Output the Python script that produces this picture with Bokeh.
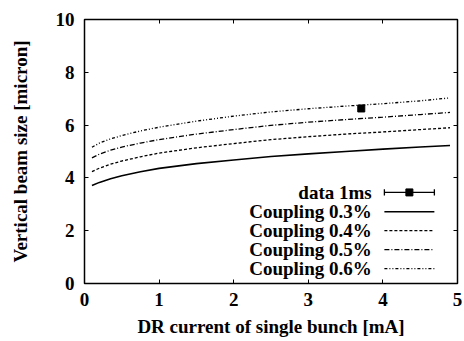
from bokeh.plotting import figure
from bokeh.models import LinearAxis, Range1d, FixedTicker
from bokeh.core.properties import value
from bokeh.embed import file_html
from bokeh.resources import INLINE

# ---- data ----
current = [0.1, 0.2, 0.35, 0.5, 0.75, 1.0, 1.5, 2.0, 2.5, 3.0, 3.5, 4.0, 4.5, 4.9]
coupling_03 = [3.71, 3.83, 3.97, 4.08, 4.23, 4.36, 4.54, 4.68, 4.81, 4.91, 5.00, 5.09, 5.17, 5.23]
coupling_04 = [4.24, 4.37, 4.52, 4.64, 4.80, 4.94, 5.14, 5.30, 5.45, 5.56, 5.66, 5.74, 5.83, 5.90]
coupling_05 = [4.76, 4.90, 5.05, 5.17, 5.32, 5.45, 5.66, 5.83, 5.99, 6.11, 6.21, 6.30, 6.40, 6.48]
coupling_06 = [5.16, 5.32, 5.48, 5.60, 5.78, 5.92, 6.15, 6.34, 6.50, 6.62, 6.72, 6.81, 6.92, 7.03]
data_x = [3.71]
data_y = [6.63]

x_ticks = [0, 1, 2, 3, 4, 5]
y_ticks = [0, 2, 4, 6, 8, 10]
legend_labels = ["data 1ms", "Coupling 0.3%", "Coupling 0.4%", "Coupling 0.5%", "Coupling 0.6%"]

FONT = "Liberation Serif"
FS = "19px"

p = figure(width=464, height=341, output_backend="svg", toolbar_location=None,
           x_range=Range1d(0, 5), y_range=Range1d(0, 10),
           min_border_left=84, min_border_right=7, min_border_top=19, min_border_bottom=58)
p.background_fill_color = "white"
p.border_fill_color = "white"
p.outline_line_color = "black"
p.outline_line_width = 1.5
p.grid.visible = False

def style_axis(ax, show_labels=True):
    ax.major_tick_in = 4
    ax.major_tick_out = 0
    ax.minor_tick_in = 0
    ax.minor_tick_out = 0
    ax.axis_line_color = None
    ax.major_tick_line_color = "black"
    ax.major_tick_line_width = 1
    ax.major_label_text_font = FONT
    ax.major_label_text_font_style = "bold"
    ax.major_label_text_font_size = FS if show_labels else "0px"
    ax.major_label_text_color = "black" if show_labels else None
    ax.axis_label_text_font = FONT
    ax.axis_label_text_font_style = "bold"
    ax.axis_label_text_font_size = FS
    ax.axis_label_text_color = "black"

p.xaxis.ticker = FixedTicker(ticks=x_ticks)
p.yaxis.ticker = FixedTicker(ticks=y_ticks)
style_axis(p.xaxis[0])
style_axis(p.yaxis[0])
p.xaxis.axis_label = "DR current of single bunch [mA]"
p.yaxis.axis_label = "Vertical beam size [micron]"
p.xaxis.major_label_standoff = 9
p.yaxis.major_label_standoff = 10
p.xaxis.axis_label_standoff = 7
p.yaxis.axis_label_standoff = 22

top = LinearAxis(ticker=FixedTicker(ticks=x_ticks))
style_axis(top, show_labels=False)
p.add_layout(top, "above")
right = LinearAxis(ticker=FixedTicker(ticks=y_ticks))
style_axis(right, show_labels=False)
p.add_layout(right, "right")

# curves
p.line(current, coupling_03, line_color="black", line_width=1.6)
p.line(current, coupling_04, line_color="black", line_width=1.3, line_dash="3 2")
p.line(current, coupling_05, line_color="black", line_width=1.3, line_dash="5 2 1 2")
p.line(current, coupling_06, line_color="black", line_width=1.3, line_dash="3 2 1 2 1 2")
p.scatter(data_x, data_y, marker="square", size=7, color="black")

# legend (drawn manually: label right-aligned, sample on the right)
leg_y = [3.45, 2.72, 2.0, 1.28, 0.56]
lx0, lx1, ltext = 4.02, 4.69, 3.85
p.text(x=[ltext] * 5, y=leg_y, text=legend_labels, text_align="right", text_baseline="middle",
       text_font=value(FONT), text_font_style="bold", text_font_size=FS, text_color="black")
p.segment(x0=[lx0], y0=[leg_y[0]], x1=[lx1], y1=[leg_y[0]], line_color="black", line_width=1.3)
p.segment(x0=[lx0, lx1], y0=[leg_y[0] - 0.12] * 2, x1=[lx0, lx1], y1=[leg_y[0] + 0.12] * 2,
          line_color="black", line_width=1.3)
p.scatter([(lx0 + lx1) / 2], [leg_y[0]], marker="square", size=7, color="black")
dashes = ["solid", "3 2", "5 2 1 2", "3 2 1 2 1 2"]
widths = [1.6, 1.3, 1.3, 1.3]
for yy, d, w in zip(leg_y[1:], dashes, widths):
    p.line([lx0, lx1], [yy, yy], line_color="black", line_width=w, line_dash=d)

open("out.html", "w").write(file_html(p, INLINE))
